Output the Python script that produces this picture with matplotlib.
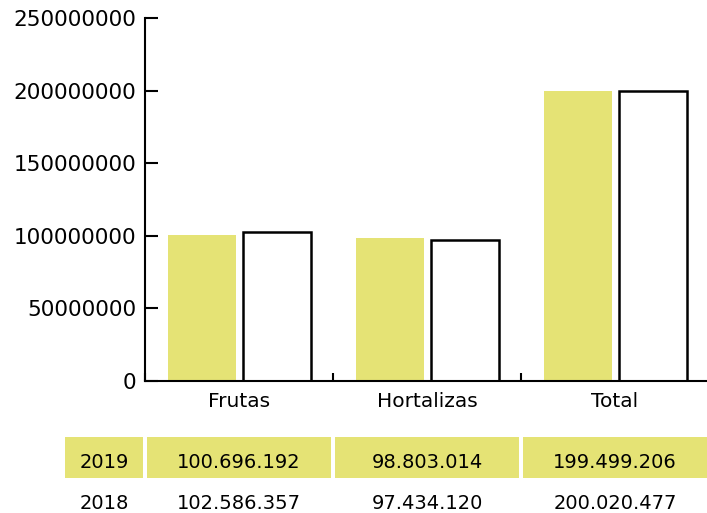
import matplotlib.pyplot as plt
import matplotlib.patches as mpatches

categories = ["Frutas", "Hortalizas", "Total"]
years = ["2019", "2018"]
vals_2019 = [100696192, 98803014, 199499206]
vals_2018 = [102586357, 97434120, 200020477]
yticks = [0, 50000000, 100000000, 150000000, 200000000, 250000000]

yellow = "#e5e375"
plt.rcParams['font.family'] = ['DejaVu Sans']

fig = plt.figure(figsize=(7.07, 5.13), dpi=100)
W, H = 707, 513
ax = fig.add_axes([145 / W, (H - 381) / H, 564 / W, 363 / H])

x = list(range(len(categories)))
ax.bar([i - 0.197 for i in x], vals_2019, width=0.362, color=yellow, linewidth=0)
ax.bar([i + 0.202 for i in x], vals_2018, width=0.362, color="white",
       edgecolor="black", linewidth=1.8)

ax.set_xlim(-0.5, 2.5)
ax.set_ylim(0, 250000000)
ax.set_yticks(yticks)
ax.set_yticklabels([str(v) for v in yticks])
ax.set_xticks(x)
ax.set_xticklabels(categories)
ax.set_xticks([-0.5, 0.5, 1.5, 2.5], minor=True)
ax.tick_params(axis="x", which="major", length=0, pad=8, labelsize=14.5)
ax.tick_params(axis="x", which="minor", direction="in", length=6, width=1.5)
ax.tick_params(axis="y", direction="in", length=9, width=1.5, pad=6.5, labelsize=15.5)
for s in ["top", "right"]:
    ax.spines[s].set_visible(False)
for s in ["left", "bottom"]:
    ax.spines[s].set_linewidth(1.5)

# table below the chart
tab = fig.add_axes([145 / W, (H - 519) / H, 564 / W, 82 / H])
tab.set_xlim(-0.5, 2.5)
tab.set_ylim(0, 2)
tab.axis("off")
rows = [vals_2019, vals_2018]
label_left = -0.5 - 80 / 188
for r, (yr, row) in enumerate(zip(years, rows)):
    y0 = 1 - r
    fc = yellow if r == 0 else "white"
    ty = y0 + 0.38
    tab.add_patch(mpatches.Rectangle((label_left, y0), 78 / 188, 1, facecolor=fc,
                                     edgecolor="none", clip_on=False))
    tab.text(label_left + 39 / 188, ty, yr, ha="center", va="center",
             fontsize=14, clip_on=False)
    for i, v in enumerate(row):
        tab.add_patch(mpatches.Rectangle((i - 0.5 + 0.008, y0), 0.984, 1,
                                         facecolor=fc, edgecolor="none", clip_on=False))
        tab.text(i, ty, f"{v:,}".replace(",", "."), ha="center", va="center",
                 fontsize=14, clip_on=False)

fig.savefig("out.png", dpi=100)
